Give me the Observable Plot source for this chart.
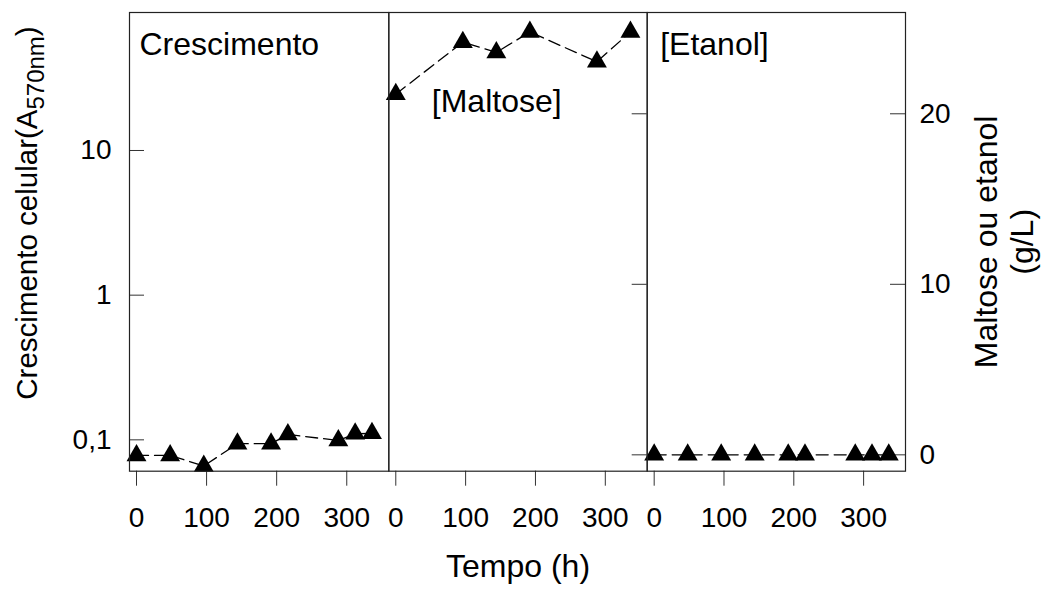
<!DOCTYPE html>
<html><head><meta charset="utf-8">
<script src="https://cdn.jsdelivr.net/npm/d3@7"></script>
<script src="https://cdn.jsdelivr.net/npm/@observablehq/plot@0.6"></script>
<style>
html,body{margin:0;padding:0;background:#fff;}
#chart{position:relative;width:1047px;height:590px;font-family:"Liberation Sans",Arial,sans-serif;}
#chart svg{position:absolute;left:0;top:0;}
</style></head><body><div id="chart"></div>
<script>
// ---- data ----
const growthTime = [0, 48, 96, 144, 192, 216, 288, 312, 336];
const growthA570 = [0.078, 0.078, 0.066, 0.094, 0.094, 0.109, 0.099, 0.110, 0.111];
const maltoseTime = [0, 96, 144, 192, 288, 336];
const maltoseGL = [21.15, 24.2, 23.6, 24.8, 23.05, 24.8];
const ethanolTime = [0, 48, 96, 144, 192, 216, 288, 312, 336];
const ethanolGL = [0, 0, 0, 0, 0, 0, 0, 0, 0];
const timeTicks = [0, 100, 200, 300];
const growthTicks = [0.1, 1, 10];
const growthTickLabels = ["0,1", "1", "10"];
const concTicks = [0, 10, 20];
const panelLabels = ["Crescimento", "[Maltose]", "[Etanol]"];
const xTitle = "Tempo (h)";
const yTitleMain = "Crescimento celular(A";
const yTitleSub = "570nm";
const yTitleEnd = ")";
const y2Title = "Maltose ou etanol\n(g/L)";

// ---- layout ----
const W = 1047, H = 590, TOP = 12, BOTTOM = 470.7;
const edges = [129, 388.3, 646.7, 905];
const FONT = "Liberation Sans, Arial, sans-serif";
const TICK = 15;

function rows(xs, ys) { return xs.map((x, i) => ({x, y: ys[i]})); }

function panel(i, yScale, marks) {
  const pw = edges[i + 1] - edges[i];
  return Plot.plot({
    width: W, height: H,
    marginLeft: edges[i], marginRight: W - edges[i + 1],
    marginTop: TOP, marginBottom: H - BOTTOM,
    style: {background: "transparent", overflow: "visible", fontFamily: FONT, color: "#000"},
    x: {domain: [-10, 360]},
    y: yScale,
    marks: [
      Plot.axisX(timeTicks, {anchor: "bottom", tickSize: TICK, tickPadding: 21, fontSize: 28, label: null, stroke: "#333", fill: "#000"}),
      ...marks(pw),
      Plot.frame({stroke: "#222", strokeWidth: 1.2})
    ]
  });
}

function series(data) {
  return [
    Plot.line(data, {x: "x", y: "y", stroke: "#000", strokeWidth: 1.3, strokeDasharray: "12,6"}),
    Plot.dot(data, {x: "x", y: "y", symbol: "triangle", r: 7.4, fill: "#000", stroke: null})
  ];
}

const logY = {type: "log", domain: [0.0607, 89.9]};
const linY = {type: "linear", domain: [-0.96, 25.94]};

const p1 = panel(0, logY, pw => [
  Plot.axisY(growthTicks, {anchor: "left", tickSize: 0, tickPadding: 18, fontSize: 28, label: null,
    tickFormat: d => growthTickLabels[growthTicks.indexOf(d)], fill: "#000"}),
  Plot.tickY(growthTicks, {y: d => d, insetRight: pw - TICK, stroke: "#333"}),
  ...series(rows(growthTime, growthA570)),
  Plot.text([panelLabels[0]], {frameAnchor: "top-left", dx: 10, dy: 20, lineAnchor: "top", textAnchor: "start", fontSize: 32, fill: "#000"})
]);

const p2 = panel(1, linY, pw => [
  Plot.axisY([], {anchor: "left", label: null}),
  Plot.tickY(concTicks, {y: d => d, insetLeft: pw - TICK, stroke: "#333"}),
  ...series(rows(maltoseTime, maltoseGL)),
  Plot.text([panelLabels[1]], {frameAnchor: "top-left", dx: 43, dy: 77, lineAnchor: "top", textAnchor: "start", fontSize: 32, fill: "#000"}),
  Plot.text([xTitle], {frameAnchor: "bottom", dy: 83, lineAnchor: "top", textAnchor: "middle", fontSize: 32, fill: "#000"})
]);

const p3 = panel(2, linY, pw => [
  Plot.axisY(concTicks, {anchor: "right", tickSize: 0, tickPadding: 14, fontSize: 28, label: null, fill: "#000"}),
  Plot.tickY(concTicks, {y: d => d, insetLeft: pw - TICK, stroke: "#333"}),
  ...series(rows(ethanolTime, ethanolGL)),
  Plot.text([panelLabels[2]], {frameAnchor: "top-left", dx: 13, dy: 20, lineAnchor: "top", textAnchor: "start", fontSize: 32, fill: "#000"}),
  Plot.text([y2Title], {frameAnchor: "right", dx: 98, rotate: -90, lineAnchor: "middle", textAnchor: "middle", lineHeight: 1.12, fontSize: 32, fill: "#000"})
]);

const chart = document.getElementById("chart");
chart.append(p1, p2, p3);

// left axis title with subscript
const t = d3.select(p1).append("text")
  .attr("transform", "translate(37,213) rotate(-90)")
  .attr("text-anchor", "middle")
  .attr("font-size", 29.5)
  .attr("fill", "#000");
t.append("tspan").text(yTitleMain);
t.append("tspan").attr("dy", 7).attr("font-size", 24).text(yTitleSub);
t.append("tspan").attr("dy", -7).text(yTitleEnd);
</script></body></html>
